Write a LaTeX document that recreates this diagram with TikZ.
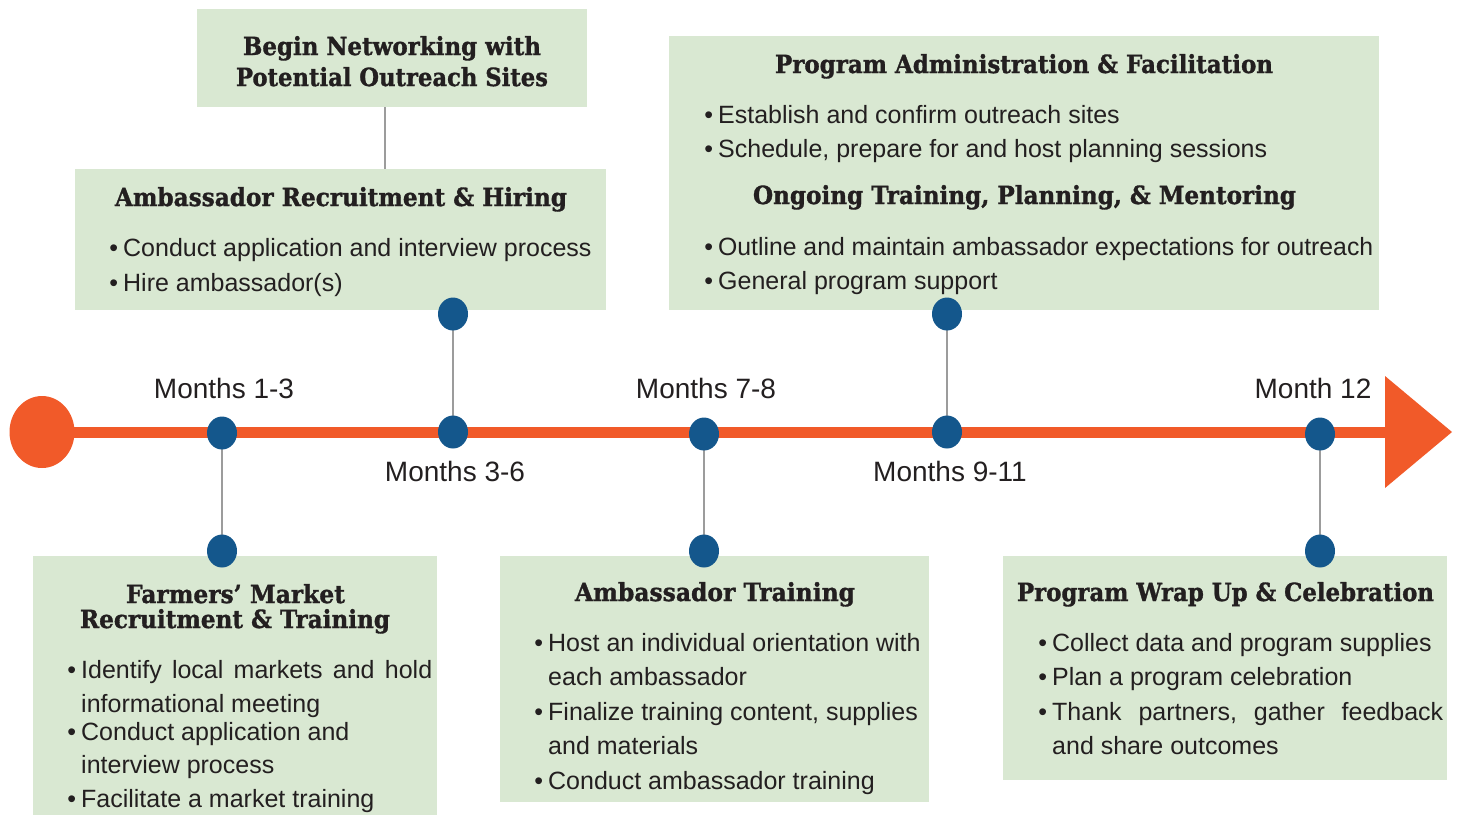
\documentclass[tikz,border=0pt]{standalone}
\usepackage{fontspec}
\usepackage{graphicx}
\setmainfont{Liberation Sans}
\newfontfamily\hdfont{DejaVu Serif}[BoldFeatures={FakeBold=1.3}]
\usetikzlibrary{shapes.geometric}
\definecolor{boxgreen}{HTML}{D9E8D2}
\definecolor{tlorange}{HTML}{F15A29}
\definecolor{dotblue}{HTML}{14578C}
\definecolor{conngray}{HTML}{9C9C9C}
\definecolor{txt}{HTML}{231F20}
\newcommand\hdw[2]{\resizebox{#1pt}{\height}{#2}}
\newcommand\bul{\makebox[0pt][r]{\textbullet\hspace{5pt}}}
\pgfdeclarelayer{bg}
\pgfsetlayers{bg,main}
\tikzset{
  box/.style={fill=boxgreen, draw=none, inner sep=0, anchor=north west},
  dotnode/.style={shape=ellipse, fill=dotblue, draw=none, inner sep=0, minimum width=30pt, minimum height=33pt},
  conn/.style={draw=conngray, line width=1.6pt},
  hd/.style={font=\hdfont\bfseries\fontsize{25}{25}\selectfont, text=txt, inner sep=0, anchor=base},
  bd/.style={font=\fontsize{25}{34}\selectfont, text=txt, inner sep=0, anchor=base west},
  mo/.style={font=\fontsize{28}{28}\selectfont, text=txt, inner sep=0, anchor=base},
  tl/.style={draw=tlorange, line width=11pt}
}
\begin{document}
\begin{tikzpicture}[x=1pt,y=-1pt]
\useasboundingbox (0,0) rectangle (1463,815);
% boxes
\node[box, minimum width=390pt, minimum height=98pt] (b1) at (197,9) {};
\node[box, minimum width=531pt, minimum height=141pt] (b2) at (75,169) {};
\node[box, minimum width=710pt, minimum height=274pt] (b3) at (669,36) {};
\node[box, minimum width=404pt, minimum height=259pt] (b4) at (33,556) {};
\node[box, minimum width=429pt, minimum height=246pt] (b5) at (500,556) {};
\node[box, minimum width=444pt, minimum height=224pt] (b6) at (1003,556) {};
% timeline
\node[shape=ellipse, fill=tlorange, inner sep=0, minimum width=65pt, minimum height=72pt] (st) at (42,432) {};
\coordinate (ah) at (1386,432);
\coordinate (tip) at (1452,432);
\draw[tl] (st.center) -- (ah);
\fill[tlorange] (ah) ++(-1,-56) -- (tip) -- ([shift={(-1,56)}]ah) -- cycle;
% dots
\node[dotnode] (d1) at (222,433) {};
\node[dotnode] (d1b) at (222,551) {};
\node[dotnode] (d2) at (453,432) {};
\node[dotnode] (d2t) at (453,314) {};
\node[dotnode] (d3) at (704,434) {};
\node[dotnode] (d3b) at (704,551) {};
\node[dotnode] (d4) at (947,432) {};
\node[dotnode] (d4t) at (947,314) {};
\node[dotnode] (d5) at (1320,434) {};
\node[dotnode] (d5b) at (1320,551) {};
\begin{pgfonlayer}{bg}
\draw[conn] (d1.center) -- (d1b.center);
\draw[conn] (d2.center) -- (d2t.center);
\draw[conn] (d3.center) -- (d3b.center);
\draw[conn] (d4.center) -- (d4t.center);
\draw[conn] (d5.center) -- (d5b.center);
\draw[conn] ([xshift=-7pt]b1.south) -- ([xshift=-7pt]b1.south |- b2.north);
\end{pgfonlayer}
% month labels
\node[mo] (m1) at (224,398) {Months 1-3};
\node[mo] (m2) at (455,481) {Months 3-6};
\node[mo] (m3) at (706,398) {Months 7-8};
\node[mo] (m4) at (950,481) {Months 9-11};
\node[mo] (m5) at (1313,398) {Month 12};
% headings
\node[hd] (h1a) at (392,55) {\hdw{298}{Begin Networking with}};
\node[hd] (h1b) at (392,86) {\hdw{312}{Potential Outreach Sites}};
\node[hd] (h2) at (341,206) {\hdw{452}{Ambassador Recruitment \& Hiring}};
\node[hd] (h3a) at (1024,73) {\hdw{498}{Program Administration \& Facilitation}};
\node[hd] (h3b) at (1024.5,204) {\hdw{543}{Ongoing Training, Planning, \& Mentoring}};
\node[hd] (h4a) at (235.5,603) {\hdw{219}{Farmers’ Market}};
\node[hd] (h4b) at (235,628) {\hdw{310}{Recruitment \& Training}};
\node[hd] (h5) at (715,601) {\hdw{280}{Ambassador Training}};
\node[hd] (h6) at (1225.5,601) {\hdw{417}{Program Wrap Up \& Celebration}};
% box 2
\node[bd] (t2a) at (123,256) {\bul Conduct application and interview process};
\node[bd] (t2b) at (123,291) {\bul Hire ambassador(s)};
% box 3
\node[bd] (t3a) at (718,123) {\bul Establish and confirm outreach sites};
\node[bd] (t3b) at (718,157) {\bul Schedule, prepare for and host planning sessions};
\node[bd] (t3c) at (718,255) {\bul \resizebox{655pt}{\height}{Outline and maintain ambassador expectations for outreach}};
\node[bd] (t3d) at (718,289) {\bul General program support};
% box 4
\node[bd] (t4a) at (81,678) {\bul\hbox to 351pt{Identify\hfill local\hfill markets\hfill and\hfill hold}};
\node[bd] (t4b) at (81,712) {informational meeting};
\node[bd] (t4c) at (81,740) {\bul Conduct application and};
\node[bd] (t4d) at (81,773) {interview process};
\node[bd] (t4e) at (81,807) {\bul Facilitate a market training};
% box 5
\node[bd] (t5a) at (548,651) {\bul Host an individual orientation with};
\node[bd] (t5b) at (548,685) {each ambassador};
\node[bd] (t5c) at (548,720) {\bul Finalize training content, supplies};
\node[bd] (t5d) at (548,754) {and materials};
\node[bd] (t5e) at (548,789) {\bul Conduct ambassador training};
% box 6
\node[bd] (t6a) at (1052,651) {\bul Collect data and program supplies};
\node[bd] (t6b) at (1052,685) {\bul Plan a program celebration};
\node[bd] (t6c) at (1052,720) {\bul\hbox to 391pt{Thank\hfill partners,\hfill gather\hfill feedback}};
\node[bd] (t6d) at (1052,754) {and share outcomes};
\end{tikzpicture}
\end{document}
